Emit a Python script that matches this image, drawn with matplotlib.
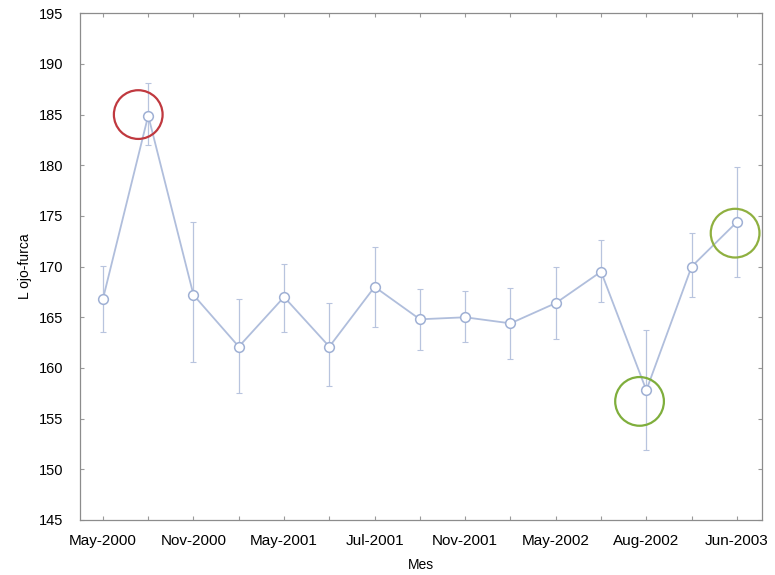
import numpy as np
import matplotlib.pyplot as plt

plt.rcParams['font.family'] = ['Liberation Sans', 'DejaVu Sans']

# sampling months (one per point), labels only on every other point
meses = ['May-2000', 'Ago-2000', 'Nov-2000', 'Feb-2001', 'May-2001', 'Jun-2001',
         'Jul-2001', 'Sep-2001', 'Nov-2001', 'Feb-2002', 'May-2002', 'Jun-2002',
         'Aug-2002', 'Nov-2002', 'Jun-2003']
media = [166.8, 184.9, 167.2, 162.1, 167.0, 162.1, 168.0, 164.8,
         165.0, 164.4, 166.4, 169.5, 157.8, 170.0, 174.4]
sup = [170.1, 188.1, 174.4, 166.8, 170.3, 166.4, 171.9, 167.8,
       167.6, 167.9, 170.0, 172.6, 163.7, 173.3, 179.8]
inf = [163.5, 182.0, 160.6, 157.5, 163.5, 158.2, 164.0, 161.8,
       162.6, 160.9, 162.9, 166.5, 151.9, 167.0, 169.0]

# highlighted points (x position, value)
resaltes_x = [0.78, 11.85, 13.96]
resaltes_y = [185.0, 156.7, 173.3]
resaltes_color = ['#c0393f', '#7fae3c', '#8fb040']

x = np.arange(len(meses))
media = np.array(media)
err = [media - np.array(inf), np.array(sup) - media]

fig = plt.figure(figsize=(7.75, 5.75), dpi=100)
ax = fig.add_axes([0.103, 0.0957, 0.880, 0.8813])

ax.errorbar(x, media, yerr=err, fmt='none', ecolor='#b8c4de', elinewidth=0.9,
            capsize=2, capthick=0.8, zorder=2)
ax.plot(x, media, color='#b0bedc', linewidth=1.3, marker='o', markersize=7,
        markerfacecolor='white', markeredgecolor='#9fb0d4', markeredgewidth=1.1, zorder=3)

ax.scatter(resaltes_x, resaltes_y, s=1230, facecolors='none',
           edgecolors=resaltes_color, linewidths=1.6, zorder=4)

ax.set_xlim(-0.51, 14.55)
ax.set_ylim(145, 195)
ax.set_yticks(np.arange(145, 196, 5))
ax.set_xticks(x)
ax.set_xticklabels([m if i % 2 == 0 else '' for i, m in enumerate(meses)])
ax.tick_params(direction='in', length=3, color='#9a9a9a', top=True, right=True)
ax.tick_params(axis='x', labelsize=11, pad=10)
ax.tick_params(axis='y', labelsize=10.5, pad=12)
for s in ax.spines.values():
    s.set_color('#8c8c8c')
    s.set_linewidth(0.9)

ax.set_xlabel('Mes', fontsize=10, labelpad=7)
ax.set_ylabel('L ojo-furca', fontsize=10, labelpad=5)

fig.savefig('out.png', dpi=100)
